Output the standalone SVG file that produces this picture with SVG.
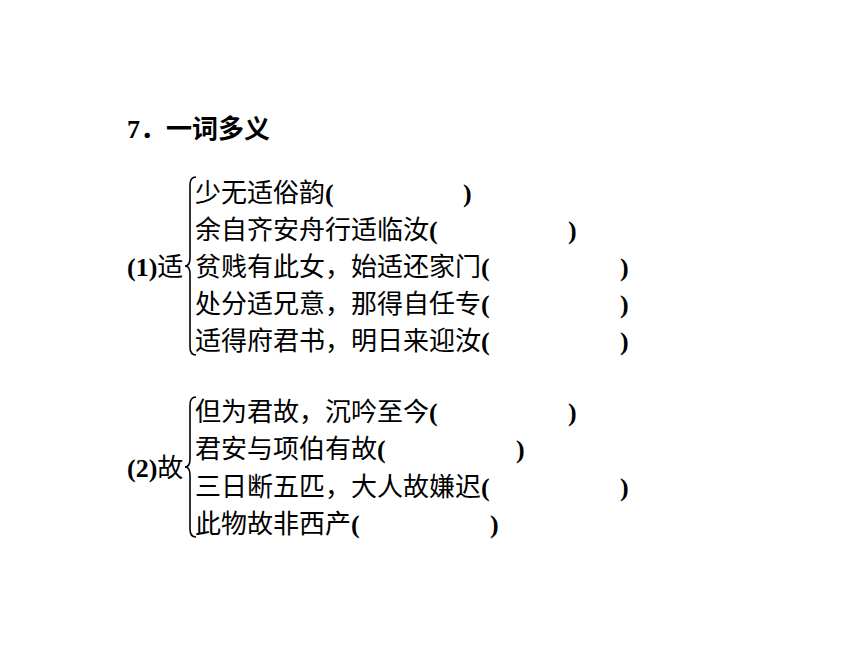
<svg xmlns="http://www.w3.org/2000/svg" width="860" height="645" viewBox="0 0 860 645">
<style>
text{font-family:"Noto Sans CJK SC","Noto Sans",sans-serif;font-size:26px;fill:#000}
.t{font-weight:bold}
.p{font-family:"Liberation Serif","Noto Sans CJK SC",serif;font-weight:bold}
.brace{fill:none;stroke:#000;stroke-width:1.6}
</style>
<rect width="860" height="645" fill="#fff"/>
<g id="title"><text x="127" y="138" class="t"><tspan class="p">7</tspan>．一词多义</text></g>

<g id="group1">
<text x="127" y="276"><tspan class="p">(1)</tspan>适</text>
<path class="brace" d="M196,177 Q190,177 190,185 L190,258 Q190,266 185,266 Q190,266 190,274 L190,347 Q190,355 196,355"/>
<text x="195" y="202">少无适俗韵<tspan class="p">(</tspan><tspan class="p" x="463">)</tspan></text>
<text x="195" y="239">余自齐安舟行适临汝<tspan class="p">(</tspan><tspan class="p" x="568">)</tspan></text>
<text x="195" y="276">贫贱有此女，始适还家门<tspan class="p">(</tspan><tspan class="p" x="620">)</tspan></text>
<text x="195" y="313">处分适兄意，那得自任专<tspan class="p">(</tspan><tspan class="p" x="620">)</tspan></text>
<text x="195" y="350">适得府君书，明日来迎汝<tspan class="p">(</tspan><tspan class="p" x="620">)</tspan></text>
</g>

<g id="group2">
<text x="127" y="477"><tspan class="p">(2)</tspan>故</text>
<path class="brace" d="M196,397 Q190,397 190,405 L190,459 Q190,467 185,467 Q190,467 190,475 L190,529 Q190,537 196,537"/>
<text x="195" y="421">但为君故，沉吟至今<tspan class="p">(</tspan><tspan class="p" x="568">)</tspan></text>
<text x="195" y="458">君安与项伯有故<tspan class="p">(</tspan><tspan class="p" x="516">)</tspan></text>
<text x="195" y="496">三日断五匹，大人故嫌迟<tspan class="p">(</tspan><tspan class="p" x="620">)</tspan></text>
<text x="195" y="533">此物故非西产<tspan class="p">(</tspan><tspan class="p" x="490">)</tspan></text>
</g>
</svg>
